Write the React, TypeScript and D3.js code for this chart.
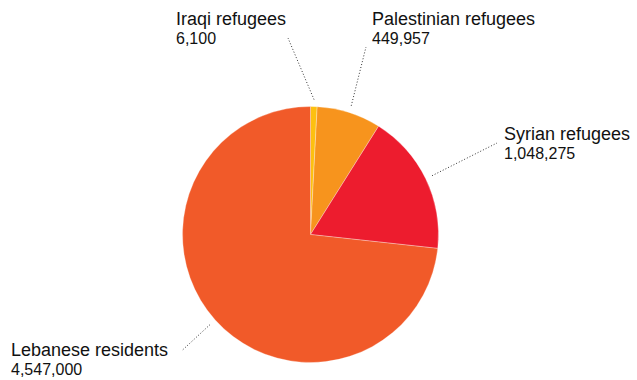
import React from "react";
import * as d3 from "d3";

// Categories and labelled values (as printed on the chart)
const categories = ["Iraqi refugees", "Palestinian refugees", "Syrian refugees", "Lebanese residents"];
const values = [6100, 449957, 1048275, 4547000];
// Slice shares (%) as drawn in the reference pie
const sliceShares = [0.83, 8.1, 17.8, 73.27];
const colors = ["#fdc010", "#f7941d", "#ed1c2e", "#f15a29"];

// Label layout: name baseline position and leader-line end
const labelPos = [
  { x: 176, y: 25, lx: 288, ly: 38 },
  { x: 372, y: 25, lx: 366, ly: 47 },
  { x: 504, y: 140, lx: 497, ly: 143 },
  { x: 11, y: 356, lx: 182, ly: 350.5 },
];

const W = 637;
const H = 380;
const cx = 310.5;
const cy = 234.5;
const R = 128;

export default function App() {
  const pie = d3.pie<number>().value((d) => d).sort(null).startAngle(0).endAngle(2 * Math.PI);
  const arcs = pie(sliceShares);
  const arc = d3.arc<d3.PieArcDatum<number>>().innerRadius(0).outerRadius(R);
  const fmt = d3.format(",");
  return (
    <svg width={W} height={H} style={{ position: "absolute", left: 0, top: 0, background: "#fff" }}
      fontFamily="'Liberation Sans', Arial, Helvetica, sans-serif">
      <g transform={`translate(${cx},${cy})`}>
        {arcs.map((a, i) => (
          <path key={i} d={arc(a) || ""} fill={colors[i]} stroke="#fff" strokeWidth={0.3} />
        ))}
      </g>
      {arcs.map((a, i) => {
        const mid = (a.startAngle + a.endAngle) / 2;
        const rr = R + 7;
        const x1 = cx + rr * Math.sin(mid);
        const y1 = cy - rr * Math.cos(mid);
        const p = labelPos[i];
        return (
          <line key={"l" + i} x1={x1} y1={y1} x2={p.lx} y2={p.ly}
            stroke="#333" strokeWidth={1} strokeDasharray="1,2" />
        );
      })}
      {categories.map((c, i) => {
        const p = labelPos[i];
        return (
          <g key={"t" + i}>
            <text x={p.x} y={p.y} fontSize={18} fill="#111">{c}</text>
            <text x={p.x} y={p.y + 19} fontSize={16} fill="#111">{fmt(values[i])}</text>
          </g>
        );
      })}
    </svg>
  );
}
